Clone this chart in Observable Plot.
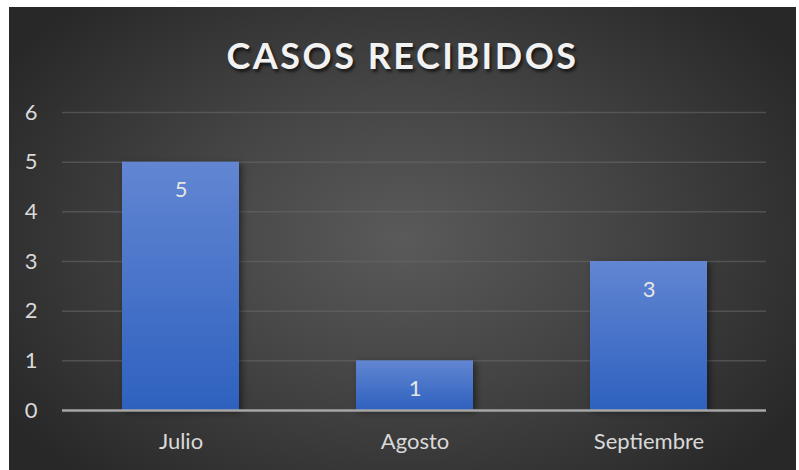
<!DOCTYPE html>
<html>
<head>
<meta charset="utf-8">
<script src="https://cdn.jsdelivr.net/npm/d3@7"></script>
<script src="https://cdn.jsdelivr.net/npm/@observablehq/plot@0.6"></script>
<style>
  html, body { margin: 0; padding: 0; background: #ffffff; width: 799px; height: 470px; overflow: hidden; }
  #panel {
    position: absolute; left: 9px; top: 7px; width: 787px; height: 463px;
    background: radial-gradient(ellipse 60% 70% at 50% 50%, #5a5a5a 0%, #454545 45%, #282828 100%);
    font-family: Lato, "Open Sans", sans-serif;
  }
  #title {
    position: absolute; left: 0; top: 24px; width: 787px; text-align: center;
    font-family: Lato, "Open Sans", sans-serif; font-weight: bold; font-size: 36px;
    letter-spacing: 2.5px; color: #f2f2f2; line-height: 48px;
    text-shadow: 2px 3px 3px rgba(0,0,0,0.6);
  }
  #chart { position: absolute; left: 0; top: 83px; }
  g[aria-label="bar"] rect { filter: drop-shadow(3px 2px 3px rgba(0,0,0,0.45)); }
</style>
</head>
<body>
<div id="panel">
  <div id="title">CASOS RECIBIDOS</div>
  <div id="chart"></div>
</div>
<script>
const months = ["Julio", "Agosto", "Septiembre"];
const cases = [5, 1, 3];
const yTicks = [0, 1, 2, 3, 4, 5, 6];

const data = months.map((m, i) => ({month: m, value: cases[i]}));

const defs = () => {
  const svgNS = "http://www.w3.org/2000/svg";
  const d = document.createElementNS(svgNS, "defs");
  d.innerHTML = `<linearGradient id="barGrad" x1="0" y1="0" x2="0" y2="1" gradientUnits="objectBoundingBox">
      <stop offset="0" stop-color="#6286d2"/>
      <stop offset="1" stop-color="#2e61bf"/>
    </linearGradient>`;
  return d;
};

const chart = Plot.plot({
  width: 787,
  height: 380,
  marginTop: 22,
  marginBottom: 60,
  marginLeft: 53,
  marginRight: 30,
  style: {background: "transparent", color: "#d9d9d9", fontFamily: "Lato, 'Open Sans', sans-serif", fontSize: "22px"},
  x: {domain: months, paddingInner: 0.5, paddingOuter: 0.25, label: null, tickSize: 0, tickPadding: 23},
  y: {domain: [0, 6], ticks: yTicks, tickFormat: "d", label: null, tickSize: 0, tickPadding: 25},
  marks: [
    defs,
    Plot.ruleY(yTicks.filter(t => t > 0), {stroke: "#6a6a6a", strokeOpacity: 0.55, strokeWidth: 1.5}),
    Plot.barY(data, {x: "month", y: "value", fill: "url(#barGrad)"}),
    Plot.ruleY([0], {stroke: "#a6a6a6", strokeWidth: 2.5}),
    Plot.text(data, {x: "month", y: "value", text: d => String(d.value), dy: 28, fill: "#e6e6e6", fontSize: 22})
  ]
});
document.getElementById("chart").appendChild(chart);
</script>
</body>
</html>
